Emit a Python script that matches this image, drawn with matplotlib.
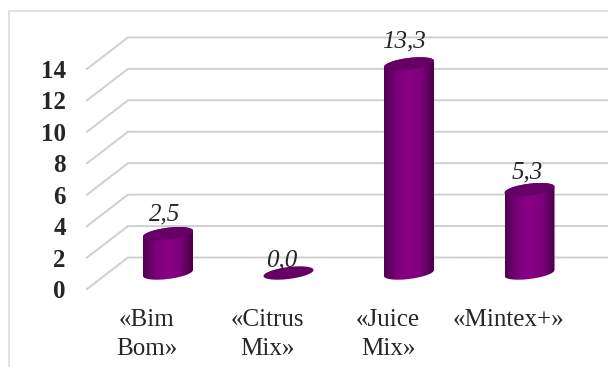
import matplotlib
matplotlib.use('Agg')
import matplotlib.pyplot as plt
from matplotlib.colors import LinearSegmentedColormap
from matplotlib.patches import Polygon
import numpy as np

categories = ['«Bim\nBom»', '«Citrus\nMix»', '«Juice\nMix»', '«Mintex+»']
values = [2.5, 0.0, 13.3, 5.3]
value_labels = ['2,5', '0,0', '13,3', '5,3']
y_ticks = [0, 2, 4, 6, 8, 10, 12, 14]

# size of one data unit in pixels, used for the 3d depth offsets
px_x = 120.5
px_y = 15.72


def dx(px):
    return px / px_x


def dy(px):
    return px / px_y


plt.rcParams['font.family'] = ['Liberation Serif', 'DejaVu Serif']

fig = plt.figure(figsize=(6.08, 3.67), dpi=100, facecolor='white')
ax = fig.add_axes([0, 0, 1, 1])
ax.axis('off')

xlim = (-168 / px_x, 440 / px_x)
ylim = (-78 / px_y, 289 / px_y)

# outer chart frame, only top and left are in view
ax.plot([dx(-159), dx(-159), xlim[1]], [ylim[0], dy(278), dy(278)],
        color='#dcdcdc', lw=1.2, zorder=1)

# floor/wall gridlines
grid_left = dx(-81)
grid_back = dx(-40)
for t in y_ticks:
    ax.plot([grid_left, grid_back, xlim[1]], [t, t + dy(31.5), t + dy(31.5)],
            color='#cfcfcf', lw=1.4, zorder=2, solid_joinstyle='miter')
    ax.text(dx(-102), t, str(t), ha='right', va='center_baseline', fontsize=18,
            fontweight='bold', color='#262626', zorder=5)

cmap = LinearSegmentedColormap.from_list(
    'cyl', ['#4f0050', '#7a007a', '#8a0086', '#7c007c', '#480048'])
shade = np.linspace(0, 1, 128).reshape(1, -1)

half_w = dx(25)
base = dy(16)
t_arc = np.linspace(0, 2 * np.pi, 120)


def ellipse_y(t, cy):
    # tilted ellipse: right end sits a little higher than the left
    return cy + dy(6) * np.sin(t) + dy(3) * np.cos(t)


label_gap = [19, 13, 22, 17]
label_shift = [-3, -7, -5, -2]
for i, v in enumerate(values):
    top = base + v
    if v > 0:
        t_low = np.linspace(np.pi, 2 * np.pi, 60)
        t_up = np.linspace(0, np.pi, 60)
        xs = np.concatenate([i + half_w * np.cos(t_low), i + half_w * np.cos(t_up)])
        ys = np.concatenate([ellipse_y(t_low, base), ellipse_y(t_up, top)])
        body = Polygon(np.column_stack([xs, ys]), closed=True, transform=ax.transData,
                       fc='none', ec='none')
        ax.add_patch(body)
        im = ax.imshow(shade, extent=(i - half_w, i + half_w, base - dy(10), top + dy(10)),
                       aspect='auto', cmap=cmap, zorder=3, interpolation='bilinear')
        im.set_clip_path(body)
    ax.fill(i + half_w * np.cos(t_arc), ellipse_y(t_arc, top), color='#660066',
            lw=0, zorder=4)
    ax.text(i + dx(label_shift[i]), top + dy(label_gap[i]), value_labels[i], ha='center',
            va='center', fontsize=18, style='italic', color='#262626', zorder=5)
    ax.text(i - dx(21), dy(-20), categories[i], ha='center', va='top', fontsize=18,
            color='#262626', linespacing=1.4, zorder=5)

ax.set_xlim(xlim)
ax.set_ylim(ylim)

fig.savefig('out.png', dpi=100, facecolor='white')
